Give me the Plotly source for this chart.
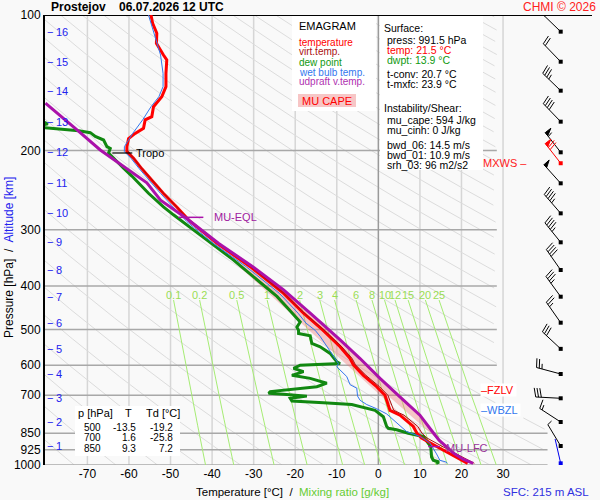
import numpy as np
import plotly.graph_objects as go

# ---------------- sounding values ----------------
# temperature, top -> surface
temp_p = [100, 104.4, 109.8, 115.6, 122.7, 125.9, 134.8, 144.3, 151.9, 159.9,
          168.2, 171, 178.6, 183.3, 188.2, 196.2, 201.2, 208.2, 219.7, 230.6,
          249.2, 267, 287.7, 321.8, 362.5, 415.6, 460, 501, 546, 580,
          599, 632, 670, 700, 718, 756, 775, 821, 850, 871,
          918, 952, 991.5]
temp_t = [-54.7, -54.3, -53.3, -53.4, -51.7, -50.9, -51.1, -51.1, -52.1, -54.1,
          -54.5, -56.1, -56.5, -58.5, -60.1, -60.5, -60.5, -58.9, -56.9, -54.9,
          -51.7, -48.5, -45.3, -38.8, -30.8, -22.8, -18.0, -13.4, -9.2, -6.8,
          -6.0, -3.6, -0.4, 1.6, 2.0, 2.8, 5.2, 8.4, 9.3, 10.4,
          14.8, 18.0, 21.5]

# virtual temperature
tv_p = [200, 219.7, 249.2, 287.7, 321.8, 362.5, 415.6, 460, 501, 546, 580, 599,
        632, 670, 700, 718, 756, 775, 821, 850, 871, 918, 952, 991.5]
tv_t = [-60.4, -56.8, -51.6, -45.2, -38.7, -30.7, -22.7, -17.8, -13.1, -8.8, -6.3, -5.5,
        -3.0, 0.3, 2.3, 2.8, 3.7, 6.2, 9.5, 10.5, 11.7, 16.2, 19.6, 23.1]

# dew point
dew_p = [171.5, 174.5, 177, 179.5, 180.9, 182.6, 186.2, 189.6, 196.1, 198,
         202.6, 219, 228, 249, 267, 278, 293, 316, 350, 388,
         422, 446, 481, 494, 502, 510, 516, 537, 546, 565,
         590, 595, 600, 610, 620, 632, 642, 658, 670, 687,
         693, 696, 703, 711, 721, 727, 734, 756, 781, 821,
         829, 835, 850, 864, 910, 960, 976, 985, 991.5]
dew_t = [-81.5, -79.5, -83.0, -75.3, -72.1, -69.3, -68.1, -66.1, -65.3, -64.5,
         -64.9, -61.3, -59.3, -55.3, -51.7, -49.3, -46.1, -41.3, -34.9, -29.2,
         -24.4, -22.0, -18.8, -19.6, -19.2, -19.2, -16.4, -16.0, -14.0, -11.6,
         -10.0, -9.2, -18.8, -20.4, -18.0, -20.8, -16.4, -12.4, -14.8, -26.0,
         -26.4, -22.8, -17.2, -21.2, -20.8, -13.2, -6.4, -0.8, 1.2, 2.0,
         2.4, 4.4, 7.2, 10.8, 12.6, 12.8, 13.2, 14.6, 13.9]

# wet bulb temperature
wb_p = [100, 109.8, 122.7, 134.8, 144.3, 151.9, 159.9, 171, 183.3, 196.2,
        201.2, 208.2, 219.7, 249.2, 287.7, 321.8, 362.5, 415.6, 460, 484,
        502, 518, 551, 595, 605, 636, 663, 675, 703, 718,
        734, 750, 770, 807, 843, 864, 893, 945, 976, 985, 991.5]
wb_t = [-55.3, -53.9, -52.4, -51.8, -51.8, -52.8, -54.7, -56.7, -59.1, -61.1,
        -61.1, -59.5, -57.5, -52.4, -46.1, -39.7, -31.8, -23.8, -19.3, -17.4,
        -15.2, -14.0, -12.0, -9.6, -10.0, -7.6, -6.8, -5.2, -5.0, -4.4,
        -2.8, -0.4, 2.0, 4.4, 6.8, 10.0, 12.4, 14.0, 14.8, 16.3, 16.6]

# most-unstable updraft virtual temperature
par_p = [991.5, 971, 940, 910, 881, 850, 775, 700, 642, 580,
         527, 460, 408, 362, 322, 283, 258, 236, 210, 199.5, 180, 157]
par_t = [22.8, 20.4, 18.0, 16.2, 14.6, 13.3, 10.0, 4.8, 0.4, -4.4,
         -9.2, -16.4, -22.8, -30.3, -38.4, -46.2, -52.4, -55.7, -63.7, -66.9, -72.5, -80.1]

# winds: pressure, direction (deg), speed (kt)
wind_p = [108.9, 127.0, 147.3, 172.6, 201.9, 213.5, 236.6, 275.9, 320, 368.7,
          422.7, 482.8, 552, 627.7, 710.8, 802.6, 907.4, 991.5]
wind_dir = [314, 316, 314, 316, 322, 322, 318, 319, 321, 325,
            324, 325, 313, 285, 273, 303, 329, 347]
wind_spd = [20, 20, 35, 40, 55, 70, 50, 45, 45, 40,
            35, 25, 30, 25, 30, 15, 5, 3]
mxws_p = 213.5

# altitude scale
alt_km = list(range(1, 17))
alt_p = [907.4, 802.6, 710.8, 627.7, 552, 482.8, 422.7, 368.7, 320, 275.9,
         236.6, 201.9, 172.6, 147.3, 127.0, 108.9]

# special levels
tropo_p, eql_p, lfc_p, fzlv_p, wbzl_p = 202.6, 281.6, 910, 682.5, 753

# table
tab_p = [500, 700, 850]
tab_t = [-13.5, 1.6, 9.3]
tab_td = [-19.2, -25.8, 7.2]

# axes
p_ticks = [100, 200, 300, 400, 500, 600, 700, 850, 925, 1000]
t_ticks = [-70, -60, -50, -40, -30, -20, -10, 0, 10, 20, 30]
mix_ratios = [0.1, 0.2, 0.5, 1, 2, 3, 4, 6, 8, 10, 12, 15, 20, 25]

# ---------------- geometry ----------------
W, H = 600, 500
ML, MR, MT, MB = 45, 8, 15, 35
T_MIN, T_MAX = -80.2, 51.4
PW, PH = W - ML - MR, H - MT - MB
PX_PER_C = PW / (T_MAX - T_MIN)
T_RIGHT, T_RIGHT_LOW = 28.5, 40.7
BG = '#f9f9f9'
FONT = 'Liberation Sans, Arial, sans-serif'


def px(x):
    return (x - ML) / PW


def py(y):
    return (H - MB - y) / PH


fig = go.Figure()


def line_trace(xs, ys, color, width, **kw):
    fig.add_trace(go.Scatter(x=xs, y=ys, mode='lines', hoverinfo='skip',
                             line=dict(color=color, width=width), **kw))


# isotherms
xs, ys = [], []
for t in t_ticks:
    if t != 0:
        xs += [t, t, None]
        ys += [1000, 100, None]
line_trace(xs, ys, '#d6d6d6', 1.5)

# dry adiabats
pp = np.geomspace(100, 1000, 240)
xs, ys = [], []
for th in range(190, 600, 10):
    tt = th * (pp / 1000) ** 0.286 - 273.15
    lim = np.where(pp < 780, T_RIGHT, T_RIGHT_LOW)
    for t, p, l in zip(tt, pp, lim):
        if T_MIN - 5 < t <= l:
            xs.append(t)
            ys.append(p)
        elif xs and xs[-1] is not None:
            xs.append(None)
            ys.append(None)
    xs.append(None)
    ys.append(None)
line_trace(xs, ys, '#dcdcdc', 1)

# isobars
xs, ys = [], []
for p in p_ticks[1:]:
    xs += [T_MIN, T_RIGHT if p < 800 else T_RIGHT_LOW, None]
    ys += [p, p, None]
line_trace(xs, ys, '#a8a8a8', 1.5)
line_trace([0, 0], [1000, 100], '#9a9a9a', 1.5)
line_trace([T_MIN, T_MAX], [100, 100], 'black', 2)

# mixing ratio lines
pm = np.geomspace(430, 1000, 30)
xs, ys = [], []
mix_top = []
for w in mix_ratios:
    e = w * pm / (622 + w)
    a = np.log(e / 6.112)
    td = 243.5 * a / (17.67 - a)
    xs += list(td) + [None]
    ys += list(pm) + [None]
    mix_top.append(td[0])
line_trace(xs, ys, '#a6ec74', 1)

# CAPE area
poly_x = [t for p, t in zip(par_p, par_t) if 283 <= p <= lfc_p]
poly_y = [p for p in par_p if 283 <= p <= lfc_p]
poly_x += [t for p, t in zip(tv_p[::-1], tv_t[::-1]) if 283 <= p <= lfc_p]
poly_y += [p for p in tv_p[::-1] if 283 <= p <= lfc_p]
fig.add_trace(go.Scatter(x=poly_x, y=poly_y, mode='lines', fill='toself',
                         fillcolor='rgba(240,115,115,0.38)', line=dict(width=0),
                         hoverinfo='skip'))

# profiles
line_trace(dew_t, dew_p, '#118811', 3)
line_trace(temp_t, temp_p, '#ff0000', 3)
line_trace(tv_t, tv_p, '#aa1111', 1)
line_trace(wb_t, wb_p, '#3377ee', 1)
line_trace(par_t, par_p, '#aa11aa', 3)

# level markers
line_trace([-64, -59.2], [tropo_p, tropo_p], 'black', 1.2)
line_trace([-48.1, -42.1], [eql_p, eql_p], '#aa11aa', 1.5)
line_trace([12.0, 14.8], [lfc_p, lfc_p], '#aa11aa', 1.5)

# wind barbs
BARB_X = (560.7 - ML) / PX_PER_C + T_MIN
SHAFT, FULL, HALF, STEP = 25, 9, 5, 2.8


def to_data(p, dx, dy):
    return BARB_X + dx / PX_PER_C, p * 10 ** (-dy / PH)


barbs = {}
for p, d, s in zip(wind_p, wind_dir, wind_spd):
    col = '#ff0000' if p == mxws_p else ('#0000ee' if p == wind_p[-1] else 'black')
    seg = barbs.setdefault(col, {'lx': [], 'ly': [], 'fx': [], 'fy': [], 'dx': [], 'dy': []})
    ux, uy = np.sin(np.radians(d)), np.cos(np.radians(d))
    bx, by = uy, -ux

    def pt(al, out):
        return to_data(p, al * ux + out * bx, al * uy + out * by)

    for q in [pt(0, 0), pt(SHAFT, 0)]:
        seg['lx'].append(q[0])
        seg['ly'].append(q[1])
    seg['lx'].append(None)
    seg['ly'].append(None)
    seg['dx'].append(BARB_X)
    seg['dy'].append(p)
    pos, rest = SHAFT, s
    while rest >= 50:
        for q in [pt(pos, 0), pt(pos, 7), pt(pos - 4, 0), pt(pos, 0)]:
            seg['fx'].append(q[0])
            seg['fy'].append(q[1])
        seg['fx'].append(None)
        seg['fy'].append(None)
        pos -= 5
        rest -= 50
    while rest >= 5:
        ln = FULL if rest >= 10 else HALF
        for q in [pt(pos, 0), pt(pos + 2.0 * ln / FULL, ln)]:
            seg['lx'].append(q[0])
            seg['ly'].append(q[1])
        seg['lx'].append(None)
        seg['ly'].append(None)
        pos -= STEP
        rest -= 10 if rest >= 10 else 5

for col, seg in barbs.items():
    line_trace(seg['lx'], seg['ly'], col, 1)
    if seg['fx']:
        fig.add_trace(go.Scatter(x=seg['fx'], y=seg['fy'], mode='lines', fill='toself',
                                 fillcolor=col, line=dict(color=col, width=1), hoverinfo='skip'))
    fig.add_trace(go.Scatter(x=seg['dx'], y=seg['dy'], mode='markers', hoverinfo='skip',
                             marker=dict(symbol='square', size=4, color=col)))

# ---------------- text ----------------
ann = []
shapes = []


def text(x, y, s, color='black', size=10.5, anchor='left', xref='paper', yref='paper', **kw):
    ann.append(dict(x=x, y=y, xref=xref, yref=yref, text=s, showarrow=False,
                    xanchor=anchor, yanchor='middle', borderpad=0,
                    font=dict(family=FONT, size=size, color=color), **kw))


def box(x0, y0, x1, y1, color='white'):
    shapes.append(dict(type='rect', xref='paper', yref='paper', x0=px(x0), x1=px(x1),
                       y0=py(y1), y1=py(y0), fillcolor=color, line=dict(width=0), layer='above'))


box(292, 16, 376, 111)
box(380, 16, 483, 170)
box(75, 406, 180, 456)
box(298, 94, 356, 107, '#f7c6c6')

text(px(50), py(7), '<b>Prostejov    06.07.2026 12 UTC</b>', size=12)
text(px(597), py(7), 'CHMI © 2026', color='#ff2020', size=12, anchor='right')
text(px(590), py(492), 'SFC: 215 m ASL', color='#3030e0', size=11.5, anchor='right')
text(px(292), py(492), 'Temperature [°C]  /  <span style="color:#66cc33">Mixing ratio [g/kg]</span>',
     size=11.5, anchor='center')
ann.append(dict(x=px(9), y=py(258), xref='paper', yref='paper', showarrow=False, textangle=-90,
                text='Pressure [hPa]  /  <span style="color:#2222ee">Altitude [km]</span>',
                font=dict(family=FONT, size=12, color='black'), xanchor='center', yanchor='middle'))

legend = [('EMAGRAM', 'black', 26, 11), ('temperature', '#ff0000', 42, 10),
          ('virt.temp.', '#aa1111', 52, 10), ('dew point', '#119911', 62, 10),
          ('wet bulb temp.', '#3377ee', 72, 10), ('udpraft v.temp.', '#b030b0', 82, 10)]
for s, c, y, fs in legend:
    text(px(298), py(y), s, color=c, size=fs)
text(px(327), py(101), 'MU CAPE', color='#ff0000', size=11, anchor='center')

info = [('Surface:', 'black', 27.5, 383), ('press: 991.5 hPa', 'black', 40, 386),
        ('temp: 21.5 °C', '#ff0000', 50, 386), ('dwpt: 13.9 °C', '#119911', 60, 386),
        ('t-conv: 20.7 °C', 'black', 74, 386), ('t-mxfc: 23.9 °C', 'black', 84, 386),
        ('Instability/Shear:', 'black', 108.5, 383), ('mu_cape: 594 J/kg', 'black', 119.5, 386),
        ('mu_cinh: 0 J/kg', 'black', 129.5, 386), ('bwd_06: 14.5 m/s', 'black', 145, 386),
        ('bwd_01: 10.9 m/s', 'black', 155, 386), ('srh_03: 96 m2/s2', 'black', 165, 386)]
for s, c, y, x in info:
    text(px(x), py(y), s, color=c)

# table
text(px(95), py(413), 'p [hPa]', anchor='center', size=11)
text(px(128), py(413), 'T', anchor='center', size=11)
text(px(163), py(413), 'Td [°C]', anchor='center', size=11)
for i, (p, t, td) in enumerate(zip(tab_p, tab_t, tab_td)):
    y = py(427 + i * 10.5)
    text(px(102), y, str(p), anchor='right', size=10)
    text(px(137), y, f'{t:.1f}', anchor='right', size=10)
    text(px(174), y, f'{td:.1f}', anchor='right', size=10)

# altitude scale
for km, p in zip(alt_km, alt_p):
    text(px(46), np.log10(p), '−', color='#2222ee', size=11, yref='y')
    text(px(55), np.log10(p), str(km), color='#2222ee', size=11, yref='y')

# mixing ratio labels
for w, t in zip(mix_ratios, mix_top):
    text(t, np.log10(419), f'{w:g}', color='#99dd55', size=11, anchor='center', xref='x', yref='y')

# level labels
text(-58.6, np.log10(tropo_p), 'Tropo', size=11, xref='x', yref='y')
text(-39.8, np.log10(eql_p), 'MU-EQL', color='#a020a0', size=11, xref='x', yref='y')
text(16.0, np.log10(916), 'MU-LFC', color='#993399', size=11, xref='x', yref='y')
text(px(480), np.log10(fzlv_p), '–FZLV ', color='#ff0000', size=11, yref='y', bgcolor='white')
text(px(480), np.log10(wbzl_p), '–WBZL ', color='#3377ee', size=11, yref='y', bgcolor='white')
text(px(528), np.log10(mxws_p), 'MXWS –', color='#ff2020', size=11, anchor='right', yref='y')

fig.update_layout(
    width=W, height=H, margin=dict(l=ML, r=MR, t=MT, b=MB),
    paper_bgcolor=BG, plot_bgcolor=BG, showlegend=False,
    font=dict(family=FONT, color='black'),
    xaxis=dict(range=[T_MIN, T_MAX], showgrid=False, zeroline=False, ticks='',
               tickvals=t_ticks, ticktext=[str(v) for v in t_ticks],
               tickfont=dict(size=12, color='black'), showline=False),
    yaxis=dict(type='log', range=[3, 2], showgrid=False, zeroline=False, ticks='',
               tickvals=p_ticks, ticktext=[str(v) for v in p_ticks],
               tickfont=dict(size=12, color='black'),
               showline=True, linecolor='black', linewidth=2),
    annotations=ann, shapes=shapes,
)

fig.write_html("out.html", config={'displayModeBar': False},
               post_script="document.body.style.margin='0';")
